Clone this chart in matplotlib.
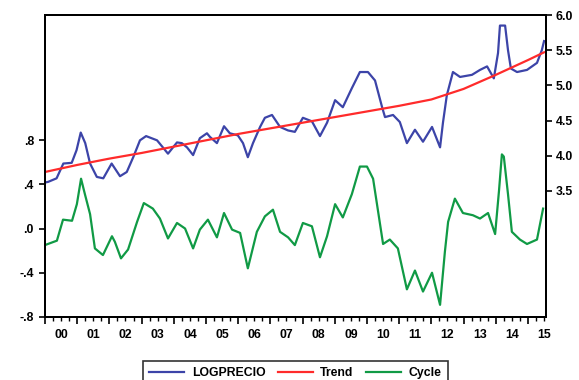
import numpy as np
import matplotlib.pyplot as plt
from matplotlib.ticker import FixedLocator, FuncFormatter

plt.rcParams["font.family"] = ["Liberation Sans", "DejaVu Sans"]

# ====== Series (dates as decimal years) ======
logprecio_t = [2000.00, 2000.10, 2000.36, 2000.57, 2000.83, 2000.98, 2001.11, 2001.25,
               2001.40, 2001.61, 2001.81, 2002.07, 2002.33, 2002.54, 2002.75, 2002.95,
               2003.14, 2003.48, 2003.66, 2003.82, 2004.10, 2004.25, 2004.41, 2004.60,
               2004.81, 2005.03, 2005.12, 2005.34, 2005.56, 2005.74, 2005.99, 2006.15,
               2006.30, 2006.46, 2006.68, 2006.83, 2007.05, 2007.30, 2007.55, 2007.76,
               2008.01, 2008.29, 2008.54, 2008.76, 2009.01, 2009.25, 2009.53, 2009.78,
               2010.03, 2010.25, 2010.47, 2010.56, 2010.81, 2011.02, 2011.24, 2011.49,
               2011.74, 2012.02, 2012.27, 2012.36, 2012.48, 2012.67, 2012.89, 2013.26,
               2013.51, 2013.73, 2013.94, 2014.07, 2014.13, 2014.29, 2014.38, 2014.47,
               2014.66, 2014.97, 2015.28, 2015.43, 2015.50]
logprecio = [3.62, 3.63, 3.68, 3.89, 3.90, 4.08, 4.33, 4.18,
             3.89, 3.70, 3.68, 3.89, 3.71, 3.77, 3.99, 4.22,
             4.28, 4.22, 4.12, 4.03, 4.19, 4.18, 4.12, 4.01,
             4.25, 4.32, 4.27, 4.18, 4.42, 4.32, 4.29, 4.18,
             3.98, 4.18, 4.41, 4.54, 4.58, 4.41, 4.36, 4.34,
             4.54, 4.49, 4.28, 4.47, 4.79, 4.69, 4.96, 5.19,
             5.19, 5.07, 4.69, 4.55, 4.58, 4.48, 4.18, 4.37,
             4.20, 4.41, 4.12, 4.47, 4.86, 5.19, 5.12, 5.15,
             5.22, 5.27, 5.10, 5.46, 5.85, 5.85, 5.50, 5.24,
             5.19, 5.22, 5.32, 5.50, 5.63]

trend_t = [2000.0, 2001.0, 2002.0, 2003.0, 2004.0, 2005.0, 2006.0, 2007.0, 2008.0,
           2009.0, 2010.0, 2011.0, 2012.0, 2013.0, 2014.0, 2015.0, 2015.5]
trend = [3.77, 3.87, 3.96, 4.04, 4.13, 4.22, 4.31, 4.39, 4.47,
         4.55, 4.63, 4.71, 4.80, 4.95, 5.15, 5.36, 5.47]

cycle_t = [2000.00, 2000.09, 2000.37, 2000.56, 2000.84, 2000.99, 2001.12, 2001.24,
           2001.40, 2001.55, 2001.80, 2002.08, 2002.17, 2002.36, 2002.58, 2002.86,
           2003.07, 2003.35, 2003.57, 2003.82, 2004.10, 2004.35, 2004.60, 2004.81,
           2005.06, 2005.34, 2005.56, 2005.81, 2006.06, 2006.30, 2006.58, 2006.83,
           2007.08, 2007.30, 2007.55, 2007.76, 2008.01, 2008.29, 2008.54, 2008.76,
           2009.01, 2009.25, 2009.53, 2009.78, 2010.00, 2010.19, 2010.50, 2010.71,
           2010.96, 2011.24, 2011.49, 2011.74, 2012.02, 2012.27, 2012.42, 2012.52,
           2012.73, 2012.98, 2013.29, 2013.51, 2013.76, 2013.98, 2014.10, 2014.19,
           2014.25, 2014.38, 2014.50, 2014.75, 2014.97, 2015.28, 2015.47]
cycle = [-0.15, -0.14, -0.11, 0.08, 0.07, 0.22, 0.45, 0.31,
         0.13, -0.18, -0.24, -0.07, -0.12, -0.27, -0.19, 0.06,
         0.23, 0.18, 0.09, -0.09, 0.05, 0.00, -0.18, -0.01,
         0.08, -0.08, 0.14, -0.01, -0.04, -0.36, -0.03, 0.11,
         0.17, -0.03, -0.08, -0.15, 0.05, 0.02, -0.26, -0.07,
         0.22, 0.10, 0.31, 0.56, 0.56, 0.45, -0.14, -0.10,
         -0.18, -0.55, -0.38, -0.57, -0.40, -0.69, -0.21, 0.06,
         0.27, 0.14, 0.12, 0.09, 0.14, -0.05, 0.34, 0.67,
         0.65, 0.31, -0.03, -0.10, -0.14, -0.10, 0.18]

years = list(range(2000, 2016))
left_ticks = [-0.8, -0.4, 0.0, 0.4, 0.8]
left_labels = ["-.8", "-.4", ".0", ".4", ".8"]
right_ticks = [3.5, 4.0, 4.5, 5.0, 5.5, 6.0]

BLUE = "#3c44a8"
RED = "#ff2b2b"
GREEN = "#109a45"
LW = 1.6
FS = 8.8
TICK_FONT = dict(fontsize=FS, fontweight="bold")

fig = plt.figure(figsize=(5.79, 3.80), dpi=100)
ax = fig.add_axes([0.0777, 0.1658, 0.8653, 0.7947])
ax2 = ax.twinx()

ax.plot(cycle_t, cycle, color=GREEN, lw=LW, label="Cycle")
ax2.plot(logprecio_t, logprecio, color=BLUE, lw=LW, label="LOGPRECIO")
ax2.plot(trend_t, trend, color=RED, lw=LW, label="Trend")

ax.set_xlim(2000.0, 2015.56)
ax.set_ylim(-0.8, 1.93)
ax2.set_ylim(1.71, 6.0)

# --- left axis ---
ax.set_yticks(left_ticks)
ax.set_yticklabels(left_labels, **TICK_FONT)
ax.tick_params(axis="y", direction="out", length=4, width=1.2, pad=4)

# --- right axis ---
ax2.set_yticks(right_ticks)
ax2.set_yticklabels([f"{v:.1f}" for v in right_ticks], **TICK_FONT)
ax2.tick_params(axis="y", direction="out", length=4, width=1.2, pad=3)

# --- x axis: year ticks, quarter minor ticks, labels mid-year ---
ax.xaxis.set_major_locator(FixedLocator(years))
ax.xaxis.set_major_formatter(FuncFormatter(lambda v, p: ""))
quarters = [y + q / 4 for y in years for q in (1, 2, 3) if y + q / 4 < 2015.56]
ax.xaxis.set_minor_locator(FixedLocator(quarters))


def mid_year(v, pos):
    if abs(v - int(v) - 0.5) < 1e-6:
        return f"{int(v) % 100:02d}"
    return ""


ax.xaxis.set_minor_formatter(FuncFormatter(mid_year))
ax.tick_params(axis="x", which="major", direction="out", length=5, width=1.2)
ax.tick_params(axis="x", which="minor", direction="out", length=3, width=1.0, pad=6)
for lbl in ax.get_xticklabels(minor=True):
    lbl.set_fontsize(FS)
    lbl.set_fontweight("bold")

for a in (ax, ax2):
    for s in a.spines.values():
        s.set_linewidth(1.4)
        s.set_color("black")

# --- legend under the plot ---
handles = ax2.get_lines() + ax.get_lines()
leg = fig.legend(
    handles,
    [h.get_label() for h in handles],
    loc="upper center",
    bbox_to_anchor=(0.51, 1 - 355 / 380),
    ncol=3,
    frameon=True,
    fancybox=False,
    edgecolor="black",
    prop=dict(size=FS, weight="bold"),
    handlelength=2.9,
    handletextpad=0.6,
    columnspacing=1.0,
    borderpad=0.5,
)
leg.get_frame().set_linewidth(1.2)

fig.savefig("out.png", dpi=100)
